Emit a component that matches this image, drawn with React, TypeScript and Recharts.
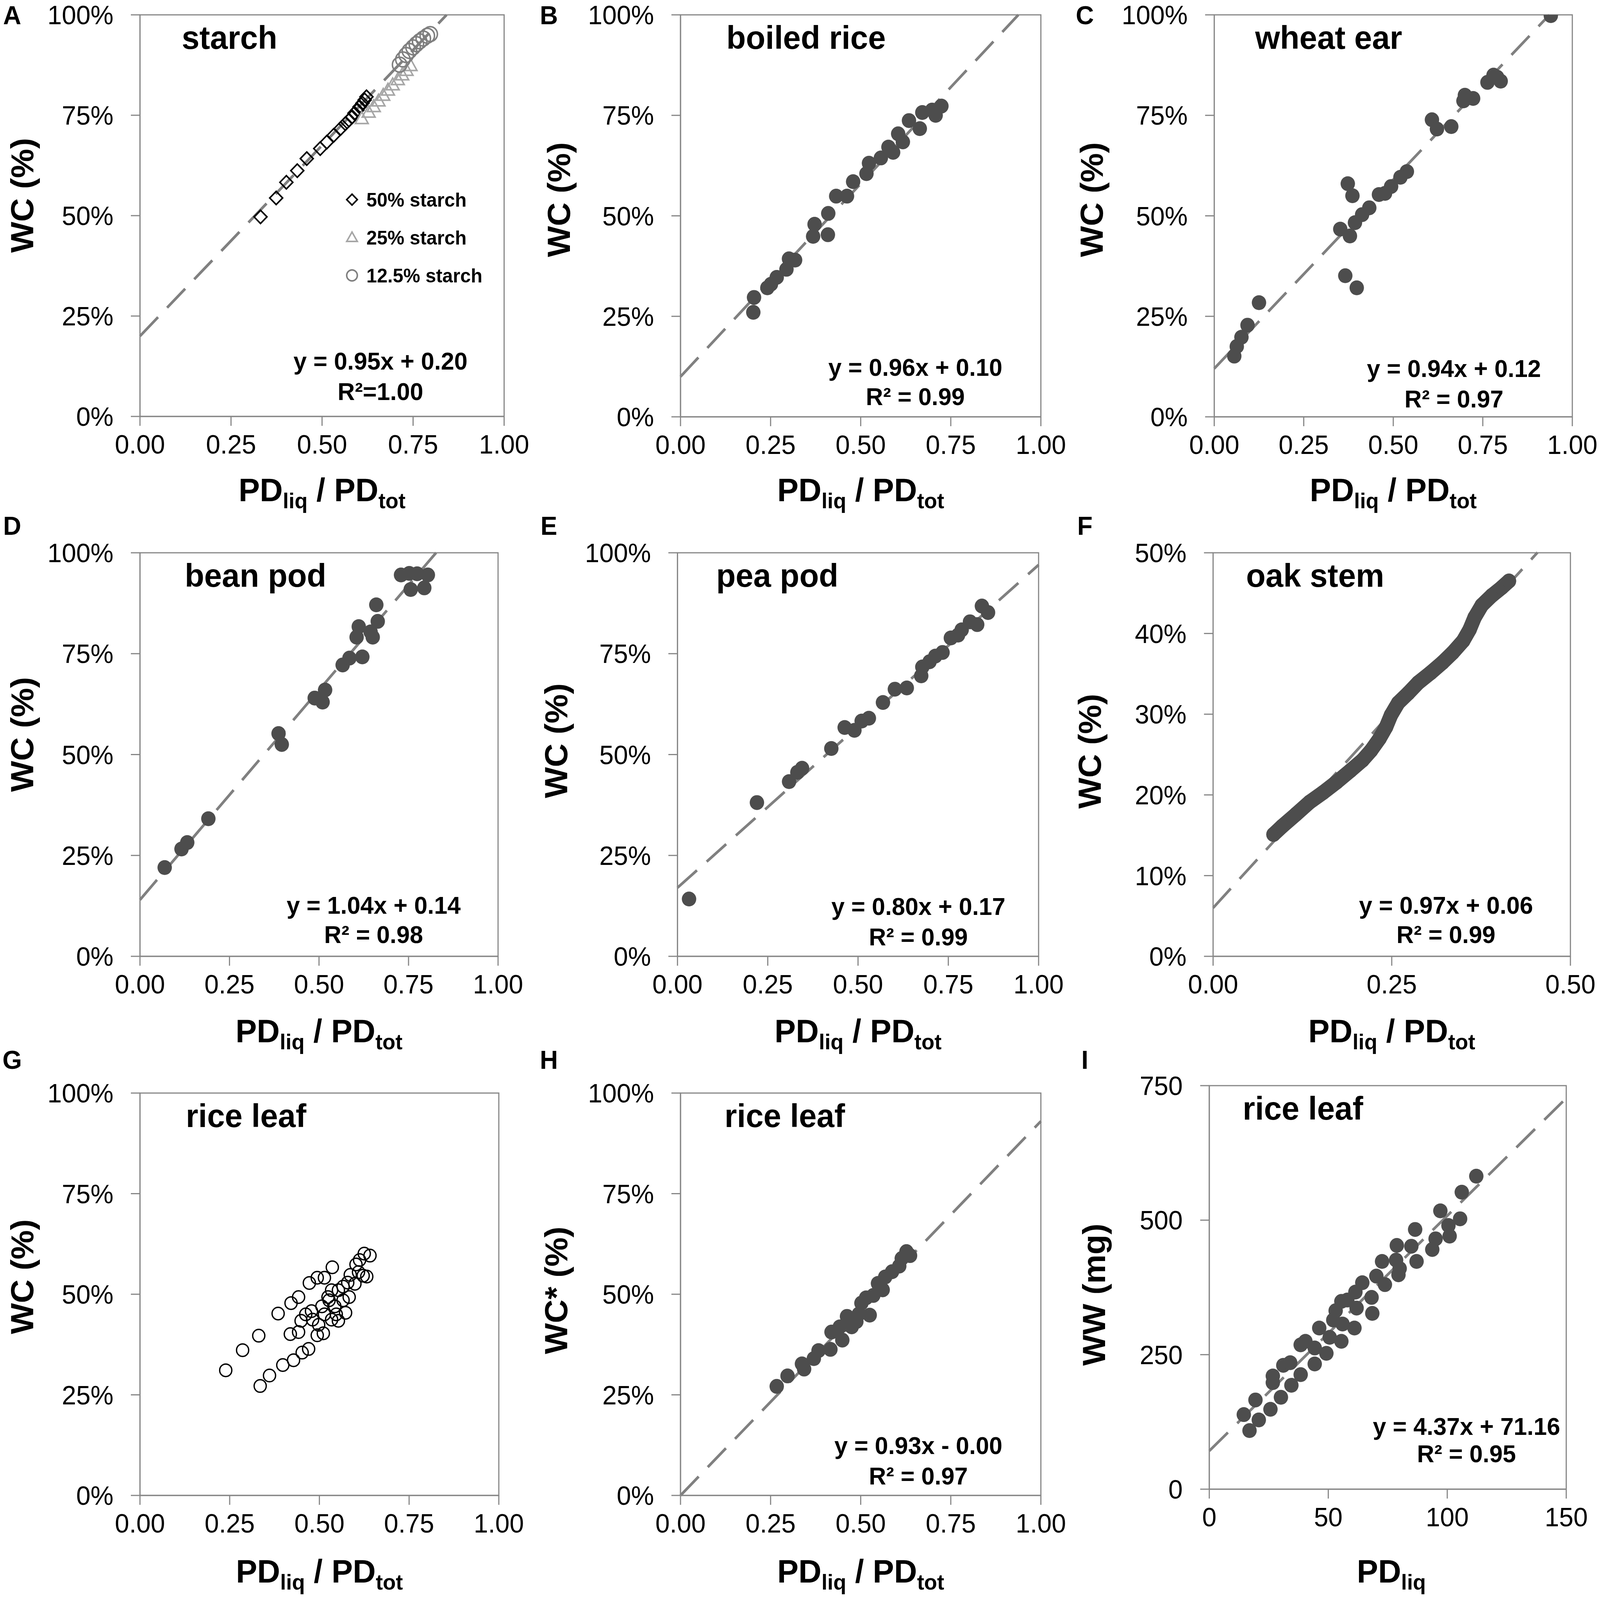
import React from 'react';
import { ScatterChart, Scatter, XAxis, YAxis, ReferenceLine, ReferenceArea } from 'recharts';

const FONT = '"Liberation Sans", Arial, Helvetica, sans-serif';

// ---------- DATA ----------
const starch50 = [[0.331,0.497],[0.374,0.544],[0.402,0.583],[0.432,0.612],[0.458,0.642],[0.495,0.667],[0.513,0.683],[0.532,0.700],[0.551,0.717],[0.564,0.729],[0.574,0.738],[0.583,0.746],[0.589,0.755],[0.597,0.763],[0.603,0.771],[0.611,0.780],[0.617,0.788],[0.622,0.796]];
const starch25 = [[0.609,0.742],[0.628,0.758],[0.642,0.772],[0.655,0.786],[0.668,0.800],[0.681,0.813],[0.694,0.826],[0.708,0.839],[0.720,0.851],[0.732,0.862],[0.743,0.874]];
const starch125 = [[0.713,0.876],[0.722,0.889],[0.731,0.900],[0.740,0.910],[0.750,0.919],[0.759,0.927],[0.768,0.934],[0.778,0.941],[0.789,0.948],[0.797,0.952]];
const boiledRice = [[0.202,0.260],[0.204,0.297],[0.241,0.321],[0.251,0.330],[0.267,0.347],[0.294,0.367],[0.301,0.393],[0.318,0.390],[0.368,0.449],[0.372,0.479],[0.409,0.453],[0.410,0.506],[0.432,0.549],[0.462,0.549],[0.479,0.585],[0.516,0.605],[0.523,0.631],[0.556,0.644],[0.577,0.671],[0.590,0.658],[0.604,0.704],[0.617,0.684],[0.634,0.737],[0.664,0.717],[0.671,0.757],[0.698,0.763],[0.708,0.750],[0.724,0.773]];
const wheatEar = [[0.940,0.998],[0.790,0.845],[0.763,0.832],[0.800,0.835],[0.780,0.850],[0.696,0.786],[0.723,0.792],[0.700,0.800],[0.608,0.739],[0.622,0.716],[0.662,0.722],[0.538,0.610],[0.520,0.596],[0.494,0.573],[0.477,0.556],[0.460,0.553],[0.373,0.580],[0.386,0.550],[0.433,0.520],[0.413,0.503],[0.393,0.483],[0.379,0.450],[0.352,0.467],[0.366,0.351],[0.398,0.321],[0.125,0.284],[0.093,0.228],[0.076,0.198],[0.063,0.175],[0.056,0.151]];
const beanPod = [[0.069,0.220],[0.116,0.266],[0.132,0.282],[0.191,0.341],[0.387,0.552],[0.396,0.525],[0.488,0.640],[0.510,0.630],[0.517,0.660],[0.566,0.722],[0.585,0.739],[0.621,0.742],[0.605,0.791],[0.611,0.817],[0.644,0.804],[0.650,0.791],[0.664,0.830],[0.660,0.871],[0.729,0.945],[0.752,0.949],[0.774,0.948],[0.804,0.945],[0.756,0.909],[0.794,0.913]];
const peaPod = [[0.032,0.142],[0.220,0.381],[0.309,0.433],[0.332,0.456],[0.345,0.466],[0.426,0.515],[0.463,0.567],[0.490,0.560],[0.510,0.583],[0.530,0.590],[0.569,0.629],[0.602,0.662],[0.635,0.665],[0.675,0.695],[0.678,0.717],[0.698,0.730],[0.714,0.744],[0.734,0.753],[0.757,0.789],[0.777,0.796],[0.787,0.809],[0.810,0.829],[0.830,0.822],[0.843,0.868],[0.860,0.852]];
const oakStem = [[0.0845,0.151],[0.0965,0.161],[0.116,0.176],[0.135,0.191],[0.154,0.203],[0.173,0.216],[0.192,0.230],[0.209,0.243],[0.221,0.255],[0.233,0.270],[0.242,0.284],[0.249,0.299],[0.259,0.314],[0.273,0.326],[0.287,0.339],[0.304,0.351],[0.321,0.364],[0.335,0.376],[0.350,0.391],[0.359,0.405],[0.366,0.420],[0.376,0.435],[0.390,0.447],[0.404,0.457],[0.414,0.465]];
const riceLeafWC = [[0.239,0.311],[0.286,0.361],[0.331,0.397],[0.385,0.452],[0.421,0.478],[0.442,0.493],[0.472,0.528],[0.494,0.541],[0.514,0.541],[0.536,0.567],[0.335,0.272],[0.361,0.298],[0.398,0.324],[0.428,0.336],[0.452,0.355],[0.470,0.364],[0.419,0.401],[0.442,0.406],[0.449,0.434],[0.462,0.450],[0.478,0.458],[0.481,0.437],[0.494,0.398],[0.511,0.403],[0.498,0.424],[0.514,0.450],[0.507,0.470],[0.527,0.485],[0.534,0.437],[0.547,0.450],[0.553,0.434],[0.543,0.470],[0.566,0.485],[0.573,0.454],[0.583,0.493],[0.553,0.510],[0.566,0.519],[0.579,0.529],[0.586,0.548],[0.599,0.526],[0.609,0.555],[0.602,0.574],[0.612,0.585],[0.622,0.546],[0.632,0.544],[0.625,0.601],[0.641,0.596],[0.534,0.510],[0.524,0.493]];
const riceLeafWCstar = [[0.267,0.271],[0.297,0.297],[0.343,0.314],[0.337,0.327],[0.370,0.340],[0.383,0.360],[0.416,0.363],[0.419,0.406],[0.449,0.386],[0.442,0.419],[0.462,0.445],[0.475,0.419],[0.488,0.432],[0.495,0.451],[0.502,0.478],[0.525,0.448],[0.515,0.491],[0.535,0.497],[0.548,0.527],[0.561,0.511],[0.568,0.543],[0.587,0.556],[0.607,0.570],[0.614,0.589],[0.627,0.606],[0.637,0.596],[0.462,0.425]];
const riceLeafWW = [[112.2,581.7],[106.1,552],[97.1,517.3],[105.4,502.5],[100.5,490],[101,470.3],[86.5,482.7],[95.1,465.3],[93.7,445.5],[78.8,453],[84.9,451.5],[87.1,423.3],[72.6,423.3],[78.5,425.7],[79.5,398.5],[80,410],[70.2,396],[73.8,380.2],[64.3,383.7],[61.4,366.3],[68.2,356.4],[68.5,326.7],[55.5,349],[58,351.5],[61.9,336.6],[61,299.5],[53.1,331.7],[52.1,314.4],[56,306.9],[55.5,274.8],[46.2,299.5],[50.6,282.2],[49.2,252.5],[38.4,268.3],[40.4,274.8],[44.3,262.4],[44.3,232.7],[31.1,230.2],[34,235.1],[38.4,212.9],[26.7,210.4],[26.7,198],[34.5,193.1],[30.1,170.8],[19.4,165.8],[25.7,148.5],[14.5,138.6],[20.8,128.7],[16.9,108.9]];

// trendlines: [slope, intercept, xStart, xEnd]
const fitA = [0.95, 0.20, 0, 0.842];
const fitB = [0.96, 0.10, 0, 0.9375];
const fitC = [0.94, 0.12, 0, 0.936];
const fitD = [1.04, 0.14, 0, 0.827];
const fitE = [0.80, 0.17, 0, 1.0];
const fitF = [0.97, 0.06, 0, 0.454];
const fitH = [0.93, 0.0, 0, 1.0];
const fitI = [4.37, 71.16, 0, 150];

const ticksUnit = [0, 0.25, 0.5, 0.75, 1];
const ticksHalf = [0, 0.25, 0.5];
const ticksPct50 = [0, 0.1, 0.2, 0.3, 0.4, 0.5];
const ticksPD = [0, 50, 100, 150];
const ticksWW = [0, 250, 500, 750];

// ---------- STYLE ----------
const PAGE_W = 4218, PAGE_H = 4088;
const AX = '#868686';
const DOT = '#4d4d4d';
const toPts = (arr: number[][]) => arr.map(([x, y]) => ({ x, y }));
const dot = (p: any) => <circle cx={p.cx} cy={p.cy} r={19} fill={DOT} />;
const ring = (p: any) => <circle cx={p.cx} cy={p.cy} r={16} fill="none" stroke="#000" strokeWidth={3.5} />;
const diamond = (p: any) => <path d={`M${p.cx},${p.cy - 17}L${p.cx + 17},${p.cy}L${p.cx},${p.cy + 17}L${p.cx - 17},${p.cy}Z`} fill="none" stroke="#000" strokeWidth={4} />;
const tri = (p: any) => <path d={`M${p.cx},${p.cy - 17}L${p.cx + 17},${p.cy + 13}L${p.cx - 17},${p.cy + 13}Z`} fill="none" stroke="#a6a6a6" strokeWidth={4} />;
const ring125 = (p: any) => <circle cx={p.cx} cy={p.cy} r={19} fill="none" stroke="#7f7f7f" strokeWidth={4} />;

const f2 = (v: number) => v.toFixed(2);
const pct = (v: number) => `${Math.round(v * 100)}%`;
const int = (v: number) => `${v}`;

type Series = { data: number[][]; shape: any; line?: any };
type PanelProps = {
  L: number; T: number; R: number; B: number;
  xd: number[]; xt: number[]; xf: (v: number) => string;
  yd: number[]; yt: number[]; yf: (v: number) => string;
  series: Series[]; fit?: number[];
};

const YW = 330, MT = 40, MR = 100, XH = 150;

function Panel({ L, T, R, B, xd, xt, xf, yd, yt, yf, series, fit }: PanelProps) {
  const w = R - L + YW + MR;
  const h = B - T + MT + XH;
  const tick = { fill: '#000', fontSize: 68, fontFamily: FONT };
  return (
    <div style={{ position: 'absolute', left: L - YW, top: T - MT, width: w, height: h }}>
      <ScatterChart width={w} height={h} margin={{ top: MT, right: MR, bottom: 0, left: 0 }}>
        <XAxis type="number" dataKey="x" domain={xd} ticks={xt} tickFormatter={xf} interval={0}
          allowDataOverflow height={XH} tick={tick} tickSize={24} tickMargin={23}
          axisLine={{ stroke: AX, strokeWidth: 3 }} tickLine={{ stroke: AX, strokeWidth: 3 }} />
        <YAxis type="number" dataKey="y" domain={yd} ticks={yt} tickFormatter={yf} interval={0}
          allowDataOverflow width={YW} tick={tick} tickSize={24} tickMargin={46}
          axisLine={{ stroke: AX, strokeWidth: 3 }} tickLine={{ stroke: AX, strokeWidth: 3 }} />
        <ReferenceArea x1={xd[0]} x2={xd[1]} y1={yd[0]} y2={yd[1]} fill="none" fillOpacity={0}
          stroke={AX} strokeWidth={3} ifOverflow="visible" />
        {series.map((s, i) => (
          <Scatter key={i} data={toPts(s.data)} shape={s.shape} line={s.line} isAnimationActive={false} />
        ))}
        {fit && (
          <ReferenceLine
            segment={[{ x: fit[2], y: fit[0] * fit[2] + fit[1] }, { x: fit[3], y: fit[0] * fit[3] + fit[1] }]}
            stroke="#808080" strokeWidth={7} strokeDasharray="68 34" ifOverflow="visible" />
        )}
      </ScatterChart>
    </div>
  );
}

const boldText = { fontFamily: FONT, fontWeight: 700, fill: '#000' } as const;

function XTitle({ cx, y, full = true }: { cx: number; y: number; full?: boolean }) {
  return (
    <text x={cx} y={y} textAnchor="middle" fontSize={84} style={boldText}>
      PD<tspan fontSize={56} dy={18}>liq</tspan>
      {full && <tspan dy={-18}> / PD</tspan>}
      {full && <tspan fontSize={56} dy={18}>tot</tspan>}
    </text>
  );
}

function YTitle({ cx, cy, label }: { cx: number; cy: number; label: string }) {
  return (
    <text x={cx} y={cy} textAnchor="middle" dominantBaseline="central" fontSize={84}
      transform={`rotate(-90 ${cx} ${cy})`} style={boldText}>{label}</text>
  );
}

function Eq({ cx, y1, y2, l1, l2 }: { cx: number; y1: number; y2: number; l1: string; l2: string }) {
  return (
    <g>
      <text x={cx} y={y1} textAnchor="middle" fontSize={63} style={boldText}>{l1}</text>
      <text x={cx} y={y2} textAnchor="middle" fontSize={63} style={boldText}>{l2}</text>
    </g>
  );
}

export default function App() {
  // the browser may cap the viewport (e.g. 4096 px); fit the 4218x4088 layout into it
  const vw = typeof window !== 'undefined' ? window.innerWidth : PAGE_W;
  const vh = typeof window !== 'undefined' ? window.innerHeight : PAGE_H;
  const sx = Math.min(1, vw / PAGE_W);
  const sy = Math.min(1, vh / PAGE_H);
  return (
    <div style={{ position: 'absolute', left: 0, top: 0, width: PAGE_W, height: PAGE_H, background: '#fff', overflow: 'hidden',
      transform: `scale(${sx}, ${sy})`, transformOrigin: '0 0' }}>
      <Panel L={369} T={38} R={1329} B={1066} xd={[0, 1]} xt={ticksUnit} xf={f2} yd={[0, 1]} yt={ticksUnit} yf={pct}
        series={[{ data: starch50, shape: diamond }, { data: starch25, shape: tri }, { data: starch125, shape: ring125 }]} fit={fitA} />
      <Panel L={1794} T={38} R={2744} B={1067} xd={[0, 1]} xt={ticksUnit} xf={f2} yd={[0, 1]} yt={ticksUnit} yf={pct}
        series={[{ data: boiledRice, shape: dot }]} fit={fitB} />
      <Panel L={3201} T={38} R={4145} B={1067} xd={[0, 1]} xt={ticksUnit} xf={f2} yd={[0, 1]} yt={ticksUnit} yf={pct}
        series={[{ data: wheatEar, shape: dot }]} fit={fitC} />
      <Panel L={369} T={1415} R={1313} B={2448} xd={[0, 1]} xt={ticksUnit} xf={f2} yd={[0, 1]} yt={ticksUnit} yf={pct}
        series={[{ data: beanPod, shape: dot }]} fit={fitD} />
      <Panel L={1786} T={1415} R={2738} B={2448} xd={[0, 1]} xt={ticksUnit} xf={f2} yd={[0, 1]} yt={ticksUnit} yf={pct}
        series={[{ data: peaPod, shape: dot }]} fit={fitE} />
      <Panel L={3198} T={1415} R={4140} B={2448} xd={[0, 0.5]} xt={ticksHalf} xf={f2} yd={[0, 0.5]} yt={ticksPct50} yf={pct}
        series={[{ data: oakStem, shape: dot, line: { stroke: DOT, strokeWidth: 38, strokeLinejoin: 'round', strokeLinecap: 'round' } }]} fit={fitF} />
      <Panel L={369} T={2798} R={1315} B={3828} xd={[0, 1]} xt={ticksUnit} xf={f2} yd={[0, 1]} yt={ticksUnit} yf={pct}
        series={[{ data: riceLeafWC, shape: ring }]} />
      <Panel L={1794} T={2798} R={2744} B={3828} xd={[0, 1]} xt={ticksUnit} xf={f2} yd={[0, 1]} yt={ticksUnit} yf={pct}
        series={[{ data: riceLeafWCstar, shape: dot }]} fit={fitH} />
      <Panel L={3188} T={2779} R={4129} B={3812} xd={[0, 150]} xt={ticksPD} xf={int} yd={[0, 750]} yt={ticksWW} yf={int}
        series={[{ data: riceLeafWW, shape: dot }]} fit={fitI} />

      <svg width={PAGE_W} height={PAGE_H} style={{ position: 'absolute', left: 0, top: 0, pointerEvents: 'none' }}>
        {[['A', 32, 62], ['B', 1447, 62], ['C', 2860, 62], ['D', 32, 1369], ['E', 1447, 1369], ['F', 2860, 1369], ['G', 32, 2736], ['H', 1447, 2736], ['I', 2860, 2736]].map(([t, x, y]) => (
          <text key={t as string} x={x as number} y={y as number} textAnchor="middle" fontSize={66} style={boldText}>{t}</text>
        ))}
        {[['starch', 479, 125], ['boiled rice', 1915, 125], ['wheat ear', 3309, 125], ['bean pod', 487, 1502], ['pea pod', 1888, 1502], ['oak stem', 3285, 1502], ['rice leaf', 490, 2885], ['rice leaf', 1910, 2885], ['rice leaf', 3276, 2866]].map(([t, x, y], i) => (
          <text key={i} x={x as number} y={y as number} fontSize={84} style={boldText}>{t}</text>
        ))}
        <YTitle cx={59} cy={500} label="WC (%)" />
        <YTitle cx={1474} cy={511} label="WC (%)" />
        <YTitle cx={2878} cy={511} label="WC (%)" />
        <YTitle cx={59} cy={1880} label="WC (%)" />
        <YTitle cx={1466} cy={1896} label="WC (%)" />
        <YTitle cx={2873} cy={1923} label="WC (%)" />
        <YTitle cx={59} cy={3268} label="WC (%)" />
        <YTitle cx={1466} cy={3303} label="WC* (%)" />
        <YTitle cx={2884} cy={3314} label="WW (mg)" />
        <XTitle cx={849} y={1283} />
        <XTitle cx={2269} y={1283} />
        <XTitle cx={3673} y={1283} />
        <XTitle cx={841} y={2668} />
        <XTitle cx={2262} y={2668} />
        <XTitle cx={3669} y={2668} />
        <XTitle cx={842} y={4051} />
        <XTitle cx={2269} y={4051} />
        <XTitle cx={3668} y={4051} full={false} />
        <Eq cx={1003} y1={946} y2={1024} l1="y = 0.95x + 0.20" l2="R²=1.00" />
        <Eq cx={2413} y1={962} y2={1037} l1="y = 0.96x + 0.10" l2="R² = 0.99" />
        <Eq cx={3833} y1={965} y2={1043} l1="y = 0.94x + 0.12" l2="R² = 0.97" />
        <Eq cx={985} y1={2339} y2={2414} l1="y = 1.04x + 0.14" l2="R² = 0.98" />
        <Eq cx={2421} y1={2342} y2={2420} l1="y = 0.80x + 0.17" l2="R² = 0.99" />
        <Eq cx={3812} y1={2339} y2={2414} l1="y = 0.97x + 0.06" l2="R² = 0.99" />
        <Eq cx={2421} y1={3722} y2={3800} l1="y = 0.93x - 0.00" l2="R² = 0.97" />
        <Eq cx={3866} y1={3673} y2={3743} l1="y = 4.37x + 71.16" l2="R² = 0.95" />
        <path d="M928,497L942,511L928,525L914,511Z" fill="none" stroke="#000" strokeWidth={4} />
        <path d="M928,594L942,618L914,618Z" fill="none" stroke="#a6a6a6" strokeWidth={4} />
        <circle cx={928} cy={705} r={14} fill="none" stroke="#7f7f7f" strokeWidth={4} />
        <text x={966} y={529} fontSize={50} style={boldText}>50% starch</text>
        <text x={966} y={626} fontSize={50} style={boldText}>25% starch</text>
        <text x={966} y={723} fontSize={50} style={boldText}>12.5% starch</text>
      </svg>
    </div>
  );
}
